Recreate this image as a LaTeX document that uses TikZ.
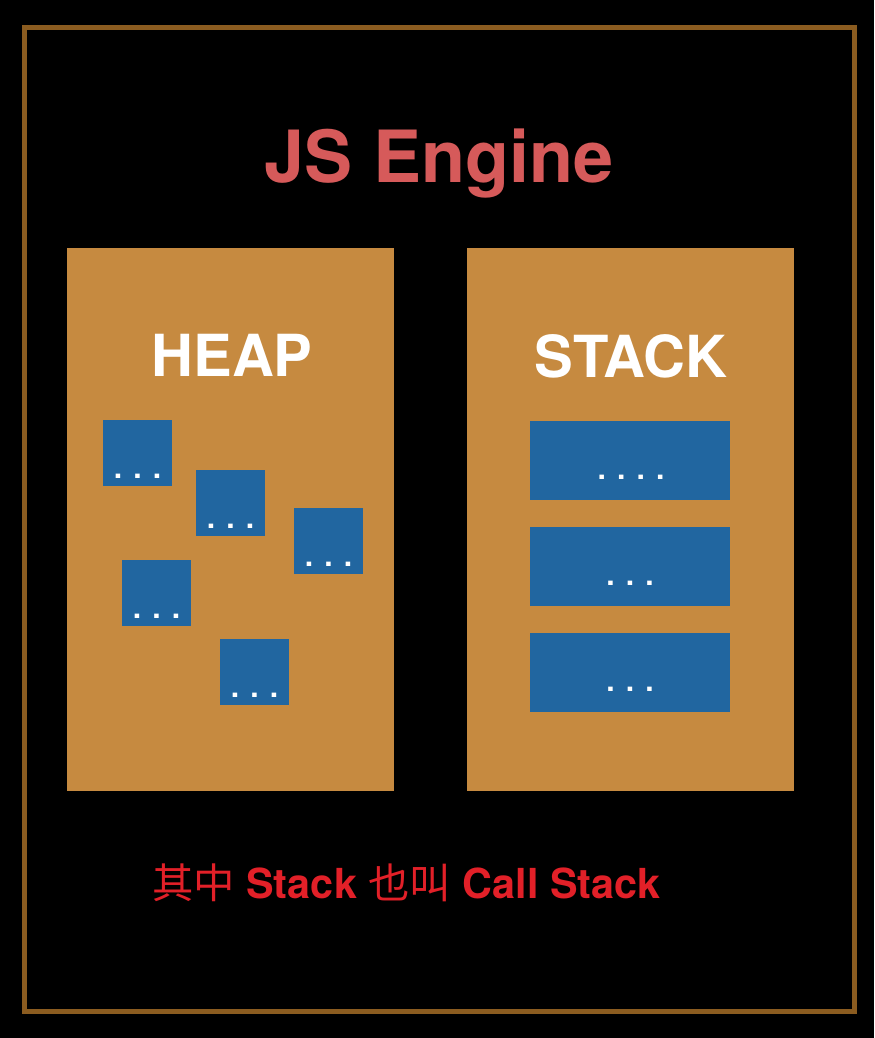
\documentclass[tikz,border=0pt]{standalone}
\usepackage{fontspec}
\setmainfont{TeX Gyre Heros}
\newfontfamily\cjk{Noto Sans CJK SC}
\usetikzlibrary{positioning}

\definecolor{framebrown}{RGB}{139,92,32}
\definecolor{panelorange}{RGB}{198,138,64}
\definecolor{cellblue}{RGB}{33,102,160}
\definecolor{titlered}{RGB}{214,90,90}
\definecolor{notered}{RGB}{226,32,40}

\tikzset{
  panel/.style={fill=panelorange, inner sep=0pt, minimum width=245.25pt, minimum height=407.25pt, anchor=north west},
  paneltitle/.style={text=white, inner sep=0pt, anchor=base, font=\fontsize{43.5}{48}\selectfont\bfseries},
  heapcell/.style={fill=cellblue, inner sep=0pt, minimum width=51.75pt, minimum height=49.5pt},
  stackcell/.style={fill=cellblue, inner sep=0pt, minimum width=150pt, minimum height=59.25pt},
  celldots/.style={text=white, inner sep=0pt, anchor=base, font=\fontsize{22.5}{24}\selectfont\bfseries}
}

\begin{document}
\begin{tikzpicture}[x=0.75pt,y=0.75pt,yscale=-1,xscale=1]
%background and frame
\fill [black] (0,0) rectangle (874,1038);
\draw [framebrown, line width=3.75pt] (24,28) rectangle (854,1011);

% Text Node
\node (title) [anchor=base, inner sep=0pt, text=titlered, font=\fontsize{54}{60}\selectfont\bfseries] at (439,182) {JS Engine};

%Panels
\node (heap) [panel] at (67,248) {};
\node (stack) [panel] at (467,248) {};
\node (heaptitle) [paneltitle] at (232,376) {HEAP};
\node (stacktitle) [paneltitle] at (631,377) {STACK};

%heap cells
\foreach \cx/\cy [count=\i] in {137.5/453, 230.5/503, 328.5/541, 156.5/593, 254.5/672}{
  \node (h\i) [heapcell] at (\cx,\cy) {};
  \node (hd\i) [celldots] at (\cx,{\cy+25}) {. . .};
}

%stack cells
\node (s1) [stackcell] at (630,460.5) {};
\node (sd1) [celldots] at (631,479) {. . . .};
\foreach \cy [count=\i from 2] in {566.5, 672.5}{
  \node (s\i) [stackcell] at (630,\cy) {};
  \node (sd\i) [celldots] at (630,{\cy+18.5}) {. . .};
}

% Text Node
\node (note) [anchor=base west, inner sep=0pt, text=notered, font=\fontsize{31}{34}\selectfont\bfseries] at (152,898) {{\cjk\mdseries 其中} Stack {\cjk\mdseries 也叫} Call Stack};
\end{tikzpicture}
\end{document}
